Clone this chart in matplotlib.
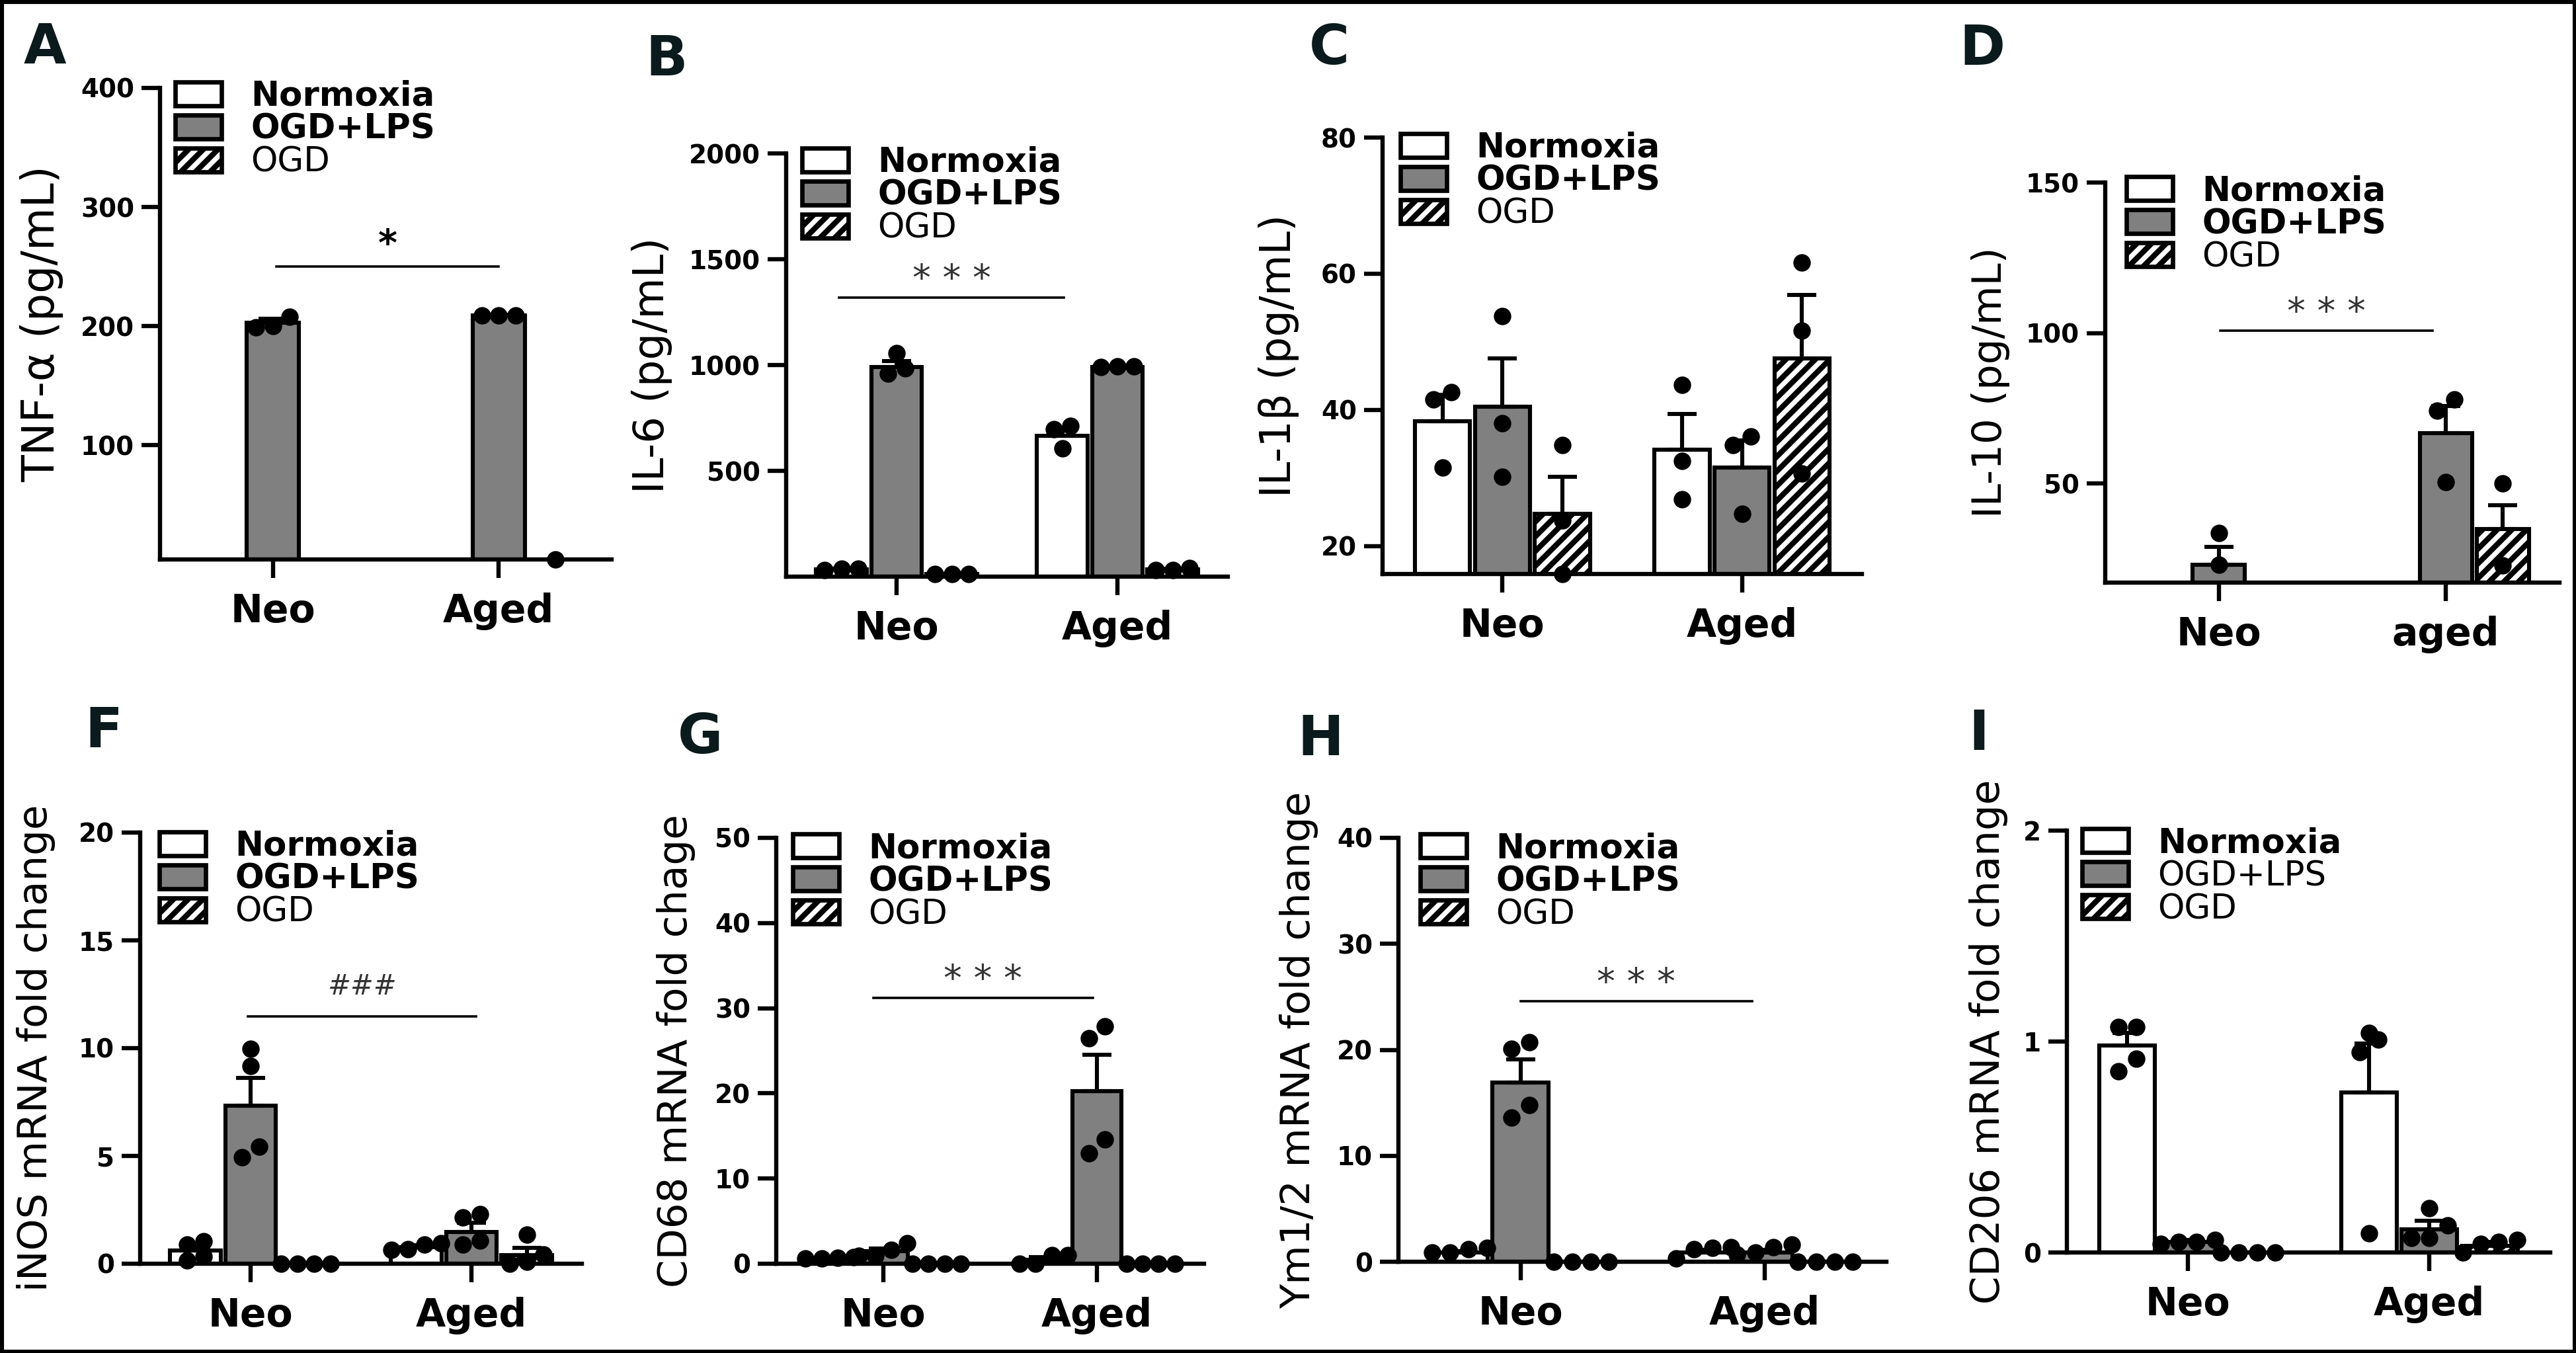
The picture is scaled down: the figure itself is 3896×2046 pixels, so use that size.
import numpy as np
import matplotlib
matplotlib.use('Agg')
import matplotlib.pyplot as plt
from matplotlib.patches import Patch, Rectangle
from matplotlib.transforms import blended_transform_factory

nan = np.nan
series = ['Normoxia', 'OGD+LPS', 'OGD']

# values are [Normoxia, OGD+LPS, OGD] x [Neo, Aged]
# A  TNF-a
tnf_mean = [[nan, nan], [203, 209], [nan, nan]]
tnf_err = [[nan, nan], [3, 0.5], [nan, nan]]
tnf_pts = [[[], []], [[199, 208, 200], [209, 209, 209]], [[], [4]]]
tnf_sig = [(0.015, 1.0, 250, '*')]

# B  IL-6
il6_mean = [[35, 666], [990, 990], [12, 35]]
il6_err = [[3, 33], [28, 3], [2, 4]]
il6_pts = [[[30, 38, 36], [711, 605, 696]],
           [[960, 1057, 984], [994, 995, 992]],
           [[12, 14, 12], [30, 40, 32]]]
il6_sig = [(-0.26, 0.757, 1318, '* * *')]

# C  IL-1b
il1b_mean = [[38.3, 34.2], [40.5, 31.5], [24.7, 47.6]]
il1b_err = [[3.9, 5.2], [7.1, 4.0], [5.5, 9.3]]
il1b_pts = [[[42.6, 41.5, 31.5], [43.7, 32.5, 26.9]],
            [[53.8, 38.0, 30.2], [36.1, 34.8, 24.7]],
            [[34.8, 23.8, 15.9], [61.6, 51.6, 30.7]]]
il1b_sig = []

# D  IL-10
il10_mean = [[nan, nan], [23.1, 66.7], [nan, 35.0]]
il10_err = [[nan, nan], [5.9, 9.0], [nan, 7.9]]
il10_pts = [[[], []], [[33.6, 23.1], [77.9, 74.3, 50.4]], [[], [50.0, 22.9]]]
il10_sig = [(0.006, 0.94, 100.7, '* * *')]

# F  iNOS
inos_mean = [[0.6, 0.78], [7.32, 1.48], [0.0, 0.4]]
inos_err = [[0.2, 0.07], [1.31, 0.41], [0.0, 0.34]]
inos_pts = [[[1.04, 0.88, 0.34, 0.14], [0.68, 0.94, 0.64, 0.88]],
            [[9.97, 9.17, 4.95, 5.42], [2.15, 2.29, 0.88, 1.08]],
            [[0, 0, 0, 0], [1.34, 0.0, 0.44, 0.08]]]
inos_sig = [(-0.012, 1.02, 11.47, '###')]

# G  CD68
cd68_mean = [[0.7, 0.5], [1.45, 20.25], [0.0, 0.0]]
cd68_err = [[0.05, 0.3], [0.35, 4.25], [0.0, 0.0]]
cd68_pts = [[[0.6, 0.6, 0.7, 0.8], [0.0, 1.0, 0.0, 1.0]],
            [[2.4, 0.9, 0.9, 1.6], [26.5, 27.9, 13.0, 14.6]],
            [[0, 0, 0, 0], [0, 0, 0, 0]]]
cd68_sig = [(-0.047, 0.98, 31.2, '* * *')]

# H  Ym1/2
ym_mean = [[0.9, 0.9], [16.9, 0.9], [0.0, 0.0]]
ym_err = [[0.1, 0.25], [2.2, 0.2], [0.0, 0.0]]
ym_pts = [[[0.9, 1.3, 1.2, 0.9], [0.3, 1.4, 1.3, 1.2]],
          [[20.1, 20.7, 14.8, 13.6], [0.9, 1.6, 0.7, 1.4]],
          [[0, 0, 0, 0], [0, 0, 0, 0]]]
ym_sig = [(0.0, 0.95, 24.6, '* * *')]

# I  CD206
cd206_mean = [[0.98, 0.76], [0.05, 0.11], [0.0, 0.03]]
cd206_err = [[0.06, 0.23], [0.01, 0.04], [0.0, 0.02]]
cd206_pts = [[[1.07, 1.07, 0.92, 0.86], [1.01, 1.04, 0.95, 0.09]],
             [[0.05, 0.06, 0.05, 0.04], [0.21, 0.13, 0.07, 0.07]],
             [[0, 0, 0, 0], [0.0, 0.05, 0.06, 0.04]]]
cd206_sig = []

panels = [
    dict(letter='A', ylabel='TNF-α (pg/mL)', mean=tnf_mean, err=tnf_err, pts=tnf_pts, sig=tnf_sig,
         ylim=(4, 400), yticks=[100, 200, 300, 400], xt=['Neo', 'Aged'], bold=[1, 1, 0],
         box=(242, 925, 133, 846), lab=96, lpos=(68, 72), leg=(265, 121), soff=6, lsize=24),
    dict(letter='B', ylabel='IL-6 (pg/mL)', mean=il6_mean, err=il6_err, pts=il6_pts, sig=il6_sig,
         ylim=(0, 2000), yticks=[500, 1000, 1500, 2000], xt=['Neo', 'Aged'], bold=[1, 1, 0],
         box=(1189, 1857, 232, 872), lab=1017, lpos=(1008, 90), leg=(1213, 221), soff=4, lsize=23),
    dict(letter='C', ylabel='IL-1β (pg/mL)', mean=il1b_mean, err=il1b_err, pts=il1b_pts, sig=il1b_sig,
         ylim=(15.9, 80), yticks=[20, 40, 60, 80], xt=['Neo', 'Aged'], bold=[1, 1, 0],
         box=(2091, 2816, 208, 868), lab=1965, lpos=(2010, 74), leg=(2118, 199), soff=4, lsize=23),
    dict(letter='D', ylabel='IL-10 (pg/mL)', mean=il10_mean, err=il10_err, pts=il10_pts, sig=il10_sig,
         ylim=(17.1, 150), yticks=[50, 100, 150], xt=['Neo', 'aged'], bold=[1, 1, 0],
         box=(3184, 3871, 276, 881), lab=3040, lpos=(2998, 74), leg=(3216, 264), soff=4, lsize=22),
    dict(letter='F', ylabel='iNOS mRNA fold change', mean=inos_mean, err=inos_err, pts=inos_pts, sig=inos_sig,
         ylim=(0, 20), yticks=[0, 5, 10, 15, 20], xt=['Neo', 'Aged'], bold=[1, 1, 0],
         box=(212, 880, 1259, 1911), lab=84, lpos=(157, 1107), leg=(241, 1255), soff=12, lsize=22),
    dict(letter='G', ylabel='CD68 mRNA fold chage', mean=cd68_mean, err=cd68_err, pts=cd68_pts, sig=cd68_sig,
         ylim=(0, 50), yticks=[0, 10, 20, 30, 40, 50], xt=['Neo', 'Aged'], bold=[1, 1, 0],
         box=(1174, 1821, 1267, 1911), lab=1052, lpos=(1059, 1116), leg=(1199, 1258), soff=4, lsize=22),
    dict(letter='H', ylabel='Ym1/2 mRNA fold change', mean=ym_mean, err=ym_err, pts=ym_pts, sig=ym_sig,
         ylim=(0, 40), yticks=[0, 10, 20, 30, 40], xt=['Neo', 'Aged'], bold=[1, 1, 0],
         box=(2115, 2853, 1267, 1908), lab=1994, lpos=(1997, 1118), leg=(2148, 1258), soff=4, lsize=22),
    dict(letter='I', ylabel='CD206 mRNA fold change', mean=cd206_mean, err=cd206_err, pts=cd206_pts, sig=cd206_sig,
         ylim=(0, 2), yticks=[0, 1, 2], xt=['Neo', 'Aged'], bold=[1, 0, 0],
         box=(3126, 3857, 1256, 1894), lab=3037, lpos=(2993, 1110), leg=(3149, 1250), soff=4, lsize=22),
]

W, H = 3896, 2046
colors = ['white', '#808080', 'white']
hatches = [None, None, '///']
offsets = [-0.25, 0.0, 0.25]
bw = 0.23

plt.rcParams['hatch.linewidth'] = 3.0
plt.rcParams['hatch.color'] = 'black'


def swarm(vals, ylim, hpx, d=0.075):
    # simple Prism-like scatter: points closer than a dot are spread in a row
    thr = (ylim[1] - ylim[0]) * 24 / hpx
    order = np.argsort(vals)
    rows = []
    for i in order:
        if rows and vals[i] - vals[rows[-1][0]] < thr:
            rows[-1].append(i)
        else:
            rows.append([i])
    dx = np.zeros(len(vals))
    for r in rows:
        for j, i in enumerate(r):
            dx[i] = (j - (len(r) - 1) / 2) * d
    return dx


fig = plt.figure(figsize=(W / 200, H / 200), dpi=200)

for p in panels:
    x0, x1, yt, yb = p['box']
    ax = fig.add_axes([x0 / W, 1 - yb / H, (x1 - x0) / W, (yb - yt) / H])
    hpx = yb - yt
    for k in range(3):
        xs = np.arange(2) + offsets[k]
        m = np.array(p['mean'][k], float)
        e = np.array(p['err'][k], float)
        ok = ~np.isnan(m)
        ax.bar(xs[ok], m[ok], width=bw, color=colors[k], edgecolor='black', hatch=hatches[k],
               linewidth=2.2, zorder=2)
        ax.errorbar(xs[ok], m[ok], yerr=[np.zeros(ok.sum()), e[ok]], fmt='none', ecolor='black',
                    elinewidth=2.2, capsize=8, capthick=2.2, zorder=3)
        for g in range(2):
            v = np.array(p['pts'][k][g], float)
            if len(v) == 0:
                continue
            dx = swarm(v, p['ylim'], hpx)
            ax.plot(xs[g] + dx, v, 'o', color='black', ms=8.5, zorder=4, clip_on=False)

    for (a, b, y, s) in p['sig']:
        ax.plot([a, b], [y, y], color='black', lw=1.3, zorder=3)
        ax.annotate(s, ((a + b) / 2, y), xytext=(0, p['soff']), textcoords='offset points',
                    ha='center', va='baseline', fontsize=20 if s != '###' else 15,
                    fontweight='bold' if s == '*' else 'normal',
                    style='italic' if s == '###' else 'normal',
                    color='black' if s == '*' else '#333333')

    ax.set_xlim(-0.5, 1.5)
    ax.set_ylim(p['ylim'])
    ax.set_yticks(p['yticks'])
    ax.set_xticks([0, 1])
    ax.set_xticklabels(p['xt'], fontsize=21, fontweight='bold')
    for t in ax.get_yticklabels():
        t.set_fontsize(14)
        t.set_fontweight('bold')
    for sp in ['top', 'right']:
        ax.spines[sp].set_visible(False)
    for sp in ['left', 'bottom']:
        ax.spines[sp].set_linewidth(2.3)
    ax.tick_params(axis='both', length=10, width=2.3)
    ax.tick_params(axis='x', pad=8)
    ax.tick_params(axis='y', pad=4)

    ax.set_ylabel(p['ylabel'], fontsize=p['lsize'])
    ax.yaxis.set_label_coords(p['lab'] / W, 0.5,
                              transform=blended_transform_factory(fig.transFigure, ax.transAxes))

    handles = [Patch(facecolor=colors[k], edgecolor='black', hatch=hatches[k], linewidth=2.4)
               for k in range(3)]
    lx, ly = p['leg']
    leg = ax.legend(handles, series, loc='upper left', bbox_to_anchor=(lx / W, 1 - ly / H),
                    bbox_transform=fig.transFigure, frameon=False, fontsize=18.5,
                    handlelength=1.37, handleheight=0.7, handletextpad=0.85,
                    labelspacing=0.0, borderpad=0, borderaxespad=0)
    for t, b in zip(leg.get_texts(), p['bold']):
        t.set_fontweight('bold' if b else 'normal')

    fig.text(p['lpos'][0] / W, 1 - p['lpos'][1] / H, p['letter'], fontsize=30,
             fontweight='bold', color='#0b1a1c', ha='center', va='center')

fig.add_artist(Rectangle((0, 0), 1, 1, transform=fig.transFigure, fill=False,
                         edgecolor='black', linewidth=4))

fig.savefig('out.png', dpi=200)
